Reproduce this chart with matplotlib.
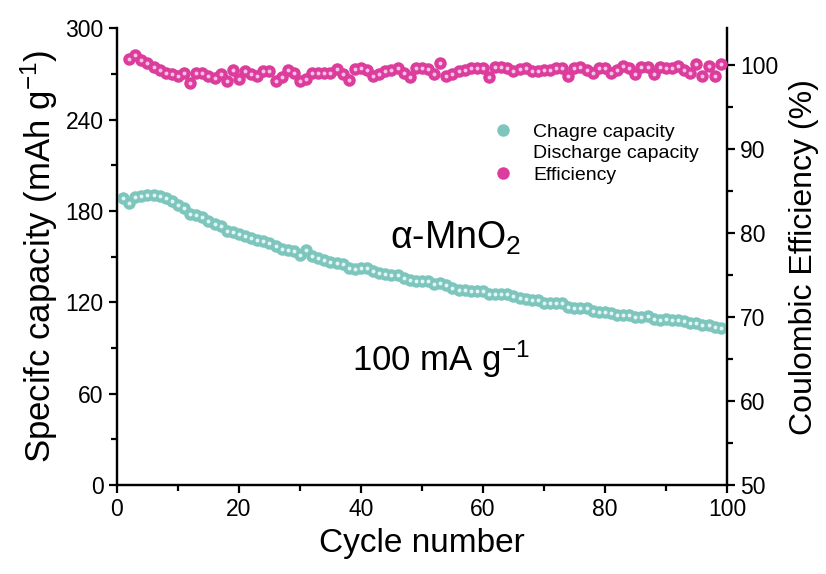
import numpy as np
import matplotlib.pyplot as plt
from matplotlib.ticker import MultipleLocator

plt.rcParams['font.family'] = ['Liberation Sans', 'DejaVu Sans']
plt.rcParams['mathtext.fontset'] = 'custom'
plt.rcParams['mathtext.rm'] = 'Liberation Sans'
plt.rcParams['mathtext.it'] = 'Liberation Sans'

# charge capacity, cycles 1..99 (mAh/g)
cycles = np.arange(1, 100)
charge = [188.4, 185.0, 189.0, 190.0, 190.6, 190.6, 190.0, 188.4, 186.3, 183.7,
          181.9, 178.2, 177.0, 175.8, 173.6, 171.7, 170.4, 167.1, 166.2, 164.5,
          163.4, 162.3, 160.6, 160.1, 159.0, 156.9, 154.7, 154.0, 153.6, 151.0,
          154.0, 150.3, 148.8, 147.5, 146.6, 146.0, 145.3, 142.7, 142.0, 142.7,
          142.7, 140.5, 139.4, 138.4, 137.9, 137.7, 136.1, 134.4, 134.0, 134.0,
          134.0, 132.2, 132.9, 131.4, 129.6, 127.9, 127.9, 127.5, 127.5, 127.5,
          125.7, 125.3, 125.3, 125.3, 124.2, 123.1, 122.4, 121.4, 121.4, 119.8,
          119.2, 119.2, 119.2, 116.8, 116.3, 116.5, 116.0, 114.4, 113.9, 113.9,
          112.9, 111.8, 111.8, 111.8, 110.0, 110.0, 110.7, 109.0, 108.5, 109.0,
          108.3, 108.3, 107.8, 106.1, 106.7, 105.2, 105.0, 103.5, 102.8]

# coulombic efficiency, cycles 2..99 (%)
eff_cycles = np.arange(2, 100)
efficiency = [100.7, 101.2, 100.6, 100.2, 99.8, 99.4, 99.1, 98.9, 98.7, 99.0,
              97.9, 99.0, 99.1, 98.7, 98.5, 98.9, 98.1, 99.4, 98.3, 99.3,
              98.9, 98.7, 99.3, 99.3, 98.1, 98.6, 99.4, 99.0, 98.1, 98.3,
              99.0, 99.0, 99.0,
              99.0, 99.5, 98.9, 98.2, 99.5, 99.7, 99.4, 98.7, 98.9, 99.3,
              99.4, 99.6, 99.0, 98.6, 99.7, 99.6, 99.5, 98.9, 100.2, 98.7,
              98.9, 99.3, 99.4, 99.6, 99.6, 99.6, 98.6, 99.8, 99.8, 99.6,
              99.3, 99.5,
              99.6, 99.3, 99.3, 99.4, 99.4, 99.6, 99.7, 98.7, 99.7, 99.8,
              99.4, 99.0, 99.6, 99.6, 99.1, 99.4, 99.9, 99.6, 98.9, 99.8,
              99.8, 98.9, 99.8, 99.6, 99.7, 99.9, 99.4, 99.0, 100.1, 98.7,
              99.9, 98.7, 100.1]

teal = '#7cc6be'
pink = '#dc3c9c'

fig = plt.figure(figsize=(8.26, 5.74), dpi=100)
ax = fig.add_axes([0.1416, 0.155, 0.7384, 0.796])
ax2 = ax.twinx()

l1, = ax.plot(cycles, charge, 'o', ms=9, color=teal, mew=0, zorder=3)
ax.plot(cycles, charge, 'o', ms=2.8, color='#e6f5f3', mew=0, zorder=4)
l2, = ax.plot([], [], ' ')
l3, = ax2.plot(eff_cycles, efficiency, 'o', ms=9, color=pink, mew=0, zorder=3)
ax2.plot(eff_cycles, efficiency, 'o', ms=2.8, color='#f4c4e2', mew=0, zorder=4)

ax.set_xlim(0, 100)
ax.set_ylim(0, 300)
ax2.set_ylim(50, 104.4)
ax.xaxis.set_major_locator(MultipleLocator(20))
ax.xaxis.set_minor_locator(MultipleLocator(10))
ax.yaxis.set_major_locator(MultipleLocator(60))
ax.yaxis.set_minor_locator(MultipleLocator(30))
ax2.yaxis.set_major_locator(MultipleLocator(10))
ax2.yaxis.set_minor_locator(MultipleLocator(5))

for a in (ax, ax2):
    a.spines['top'].set_visible(False)
    for s in a.spines.values():
        s.set_linewidth(1.6)
    a.tick_params(which='major', direction='out', length=6, width=1.6, labelsize=16.5)
    a.tick_params(which='minor', direction='out', length=4, width=1.6)

ax.set_xlabel('Cycle number', fontsize=24, labelpad=5)
ax.set_ylabel('Specifc capacity (mAh g$^{-1}$)', fontsize=25, labelpad=4)
ax2.set_ylabel('Coulombic Efficiency (%)', fontsize=23, labelpad=8)

ax.text(0.447, 0.518, r'$\alpha$-MnO$_2$', transform=ax.transAxes, fontsize=27)
ax.text(0.385, 0.25, '100 mA g$^{-1}$', transform=ax.transAxes, fontsize=25)

ax.legend([l1, l2, l3], ['Chagre capacity', 'Discharge capacity', 'Efficiency'],
          loc='upper left', bbox_to_anchor=(0.58, 0.83), frameon=False,
          fontsize=14, handletextpad=0.8, labelspacing=0.2, handlelength=1.5)

plt.savefig('out.png', dpi=100)
